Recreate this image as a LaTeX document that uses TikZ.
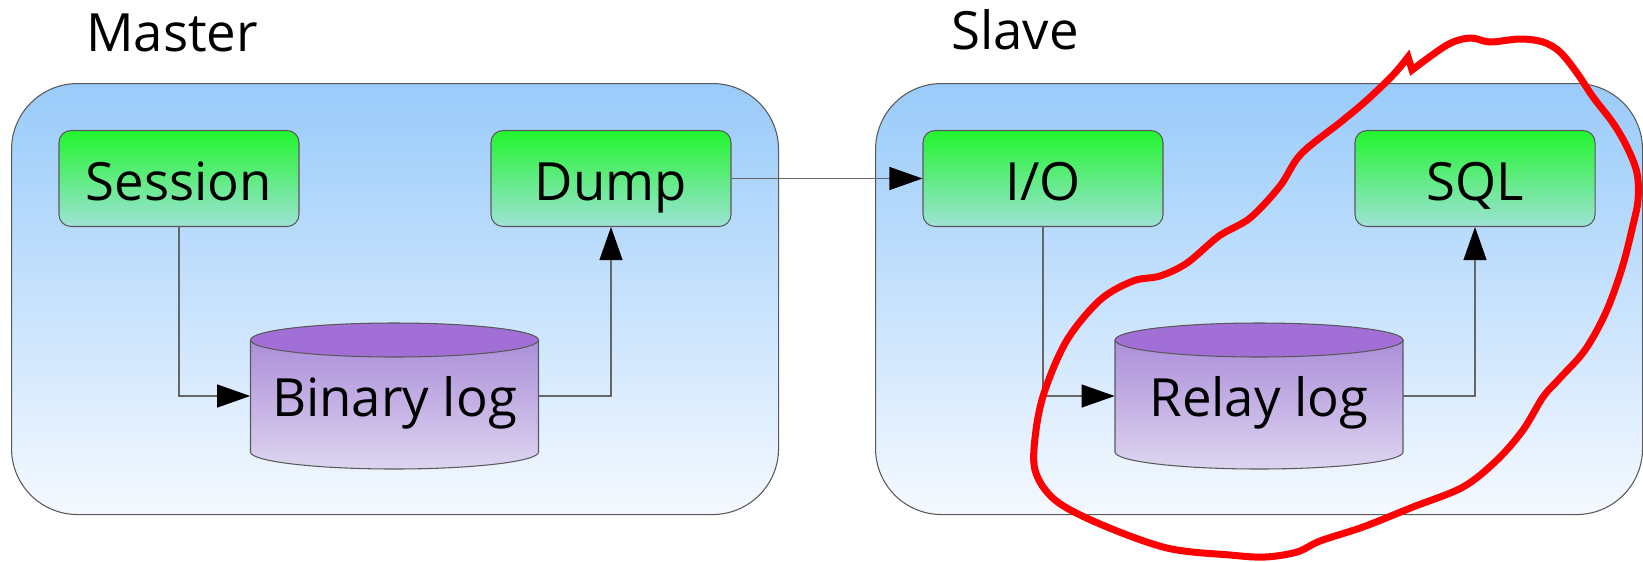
\documentclass[tikz,border=0pt]{standalone}
\usepackage{fontspec}
\setmainfont{Open Sans}
\usetikzlibrary{positioning}
\usetikzlibrary{arrows.meta}
\definecolor{hosttopc}{HTML}{99CBFA}
\definecolor{hostbotc}{HTML}{F5F9FF}
\definecolor{threadtopc}{HTML}{22F52E}
\definecolor{threadbotc}{HTML}{9EE2D6}
\definecolor{logtopc}{HTML}{A585D6}
\definecolor{logbotc}{HTML}{DDD5F0}
\definecolor{logcapc}{HTML}{A26FD7}
\colorlet{edgec}{black!65}
\colorlet{linkc}{black!60}

\begin{document}
\begin{tikzpicture}[
  hostbox/.style={anchor=north west, draw=edgec, line width=0.6pt, rounded corners=1.32cm,
    top color=hosttopc, bottom color=hostbotc, shape=rectangle, minimum width=15.34cm, minimum height=8.62cm},
  threadbox/.style={draw=edgec, line width=0.6pt, rounded corners=0.24cm, top color=threadtopc,
    bottom color=threadbotc, shape=rectangle, minimum width=4.8cm, minimum height=1.92cm,
    text height=0.86cm, text depth=0cm, font=\fontsize{30}{36}\selectfont},
  logbox/.style={shape=rectangle, minimum width=5.76cm, minimum height=2.24cm,
    text height=0.80cm, text depth=0cm, font=\fontsize{30}{36}\selectfont},
  hosttitle/.style={anchor=base west, font=\fontsize{30}{36}\selectfont},
  link/.style={draw=linkc, line width=0.6pt, -{Triangle[length=0.66cm, width=0.46cm, color=black]}},
]
\useasboundingbox (0cm,0cm) rectangle (32.86cm,-11.22cm);

% hosts
\node[hostbox] (master) at (0.22cm,-1.66cm) {};
\node[hostbox] (slave) at (17.50cm,-1.66cm) {};
\node[hosttitle] (mastertitle) at (1.60cm,-1.02cm) {Master};
\node[hosttitle] (slavetitle) at (18.90cm,-0.98cm) {Slave};

% log drums
\shade[top color=logtopc, bottom color=logbotc] (5.01cm,-6.80cm) -- (5.01cm,-9.04cm)
  arc[start angle=180, end angle=360, x radius=2.88cm, y radius=0.34cm] -- (10.77cm,-6.80cm)
  arc[start angle=0, end angle=180, x radius=2.88cm, y radius=0.34cm] -- cycle;
\draw[edgec, line width=0.6pt] (5.01cm,-6.80cm) -- (5.01cm,-9.04cm)
  arc[start angle=180, end angle=360, x radius=2.88cm, y radius=0.34cm] -- (10.77cm,-6.80cm);
\filldraw[fill=logcapc, draw=edgec, line width=0.6pt] (7.89cm,-6.80cm) ellipse [x radius=2.88cm, y radius=0.34cm];

\shade[top color=logtopc, bottom color=logbotc] (22.30cm,-6.80cm) -- (22.30cm,-9.04cm)
  arc[start angle=180, end angle=360, x radius=2.88cm, y radius=0.34cm] -- (28.06cm,-6.80cm)
  arc[start angle=0, end angle=180, x radius=2.88cm, y radius=0.34cm] -- cycle;
\draw[edgec, line width=0.6pt] (22.30cm,-6.80cm) -- (22.30cm,-9.04cm)
  arc[start angle=180, end angle=360, x radius=2.88cm, y radius=0.34cm] -- (28.06cm,-6.80cm);
\filldraw[fill=logcapc, draw=edgec, line width=0.6pt] (25.18cm,-6.80cm) ellipse [x radius=2.88cm, y radius=0.34cm];

\node[logbox] (binlog) at (7.89cm,-7.92cm) {Binary log};
\node[logbox] (relaylog) at (25.18cm,-7.92cm) {Relay log};

% threads
\node[threadbox] (session) at (3.58cm,-3.57cm) {Session};
\node[threadbox] (dump) at (12.22cm,-3.57cm) {Dump};
\node[threadbox] (io) at (20.86cm,-3.57cm) {I/O};
\node[threadbox] (sql) at (29.50cm,-3.57cm) {SQL};

\draw[link] (session.south) |- (binlog.west);
\draw[link] (binlog.east) -| (dump.south);
\draw[link] (dump.east) -- (io.west);
\draw[link] (io.south) |- (relaylog.west);
\draw[link] (relaylog.east) -| (sql.south);

% hand drawn mark
\draw[red, line width=0.14cm] plot[smooth, tension=0.55] coordinates {
  (28.24,-1.40) (28.94,-0.90) (29.40,-0.76) (29.80,-0.84) (30.40,-0.78) (30.86,-0.84)
  (31.20,-1.04) (31.54,-1.46) (31.86,-1.94) (32.26,-2.46) (32.54,-2.94) (32.74,-3.46)
  (32.76,-4.00) (32.66,-4.50) (32.44,-5.36) (32.12,-6.24) (31.70,-7.00) (31.20,-7.56)
  (30.86,-7.94) (30.46,-8.60) (29.94,-9.20) (29.26,-9.74) (28.26,-10.14) (27.26,-10.54)
  (26.40,-10.82) (25.94,-11.04) (25.30,-11.14) (24.60,-11.10) (23.34,-10.96) (22.00,-10.48)
  (21.10,-10.00) (20.70,-9.40) (20.72,-8.60) (20.90,-7.80) (21.34,-6.80) (22.00,-6.00)
  (22.66,-5.62) (23.20,-5.52) (23.74,-5.26) (24.38,-4.72) (25.00,-4.36) (25.60,-3.72)
  (26.02,-3.08) (26.84,-2.42) (27.34,-2.00) (27.86,-1.50) (28.16,-1.14)} -- cycle;

\end{tikzpicture}
\end{document}
